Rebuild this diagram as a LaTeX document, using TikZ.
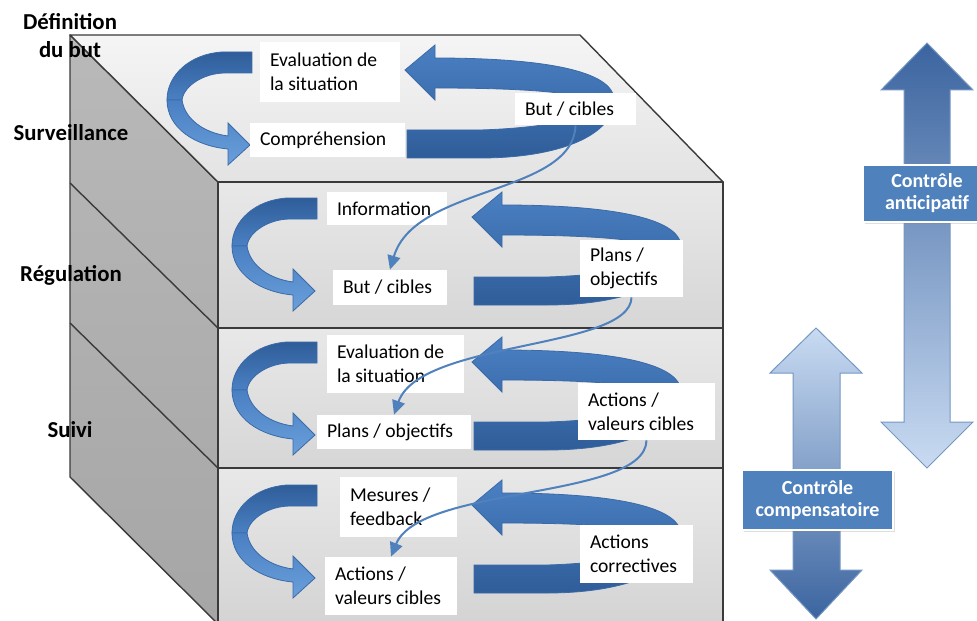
\documentclass[tikz,border=0pt]{standalone}
\usepackage{fontspec}
\setmainfont{Carlito}
\usetikzlibrary{arrows.meta,shadows}

\definecolor{arrowdark}{HTML}{2F5D99}
\definecolor{arrowmid}{HTML}{4A80C3}
\definecolor{arrowlight}{HTML}{6A9FDB}
\definecolor{arrowline}{HTML}{3A6AA8}
\definecolor{linkblue}{HTML}{4F81BD}
\definecolor{boxblue}{HTML}{4F81BD}
\definecolor{palearrow}{HTML}{C9DBF2}
\definecolor{deeparrow}{HTML}{3B649F}
\definecolor{edgegray}{HTML}{3A3A3A}

\newcommand\tagfont{\fontsize{9.8}{12}\selectfont\hyphenpenalty=10000}
\newcommand\phasefont{\fontsize{11.4}{14}\selectfont\bfseries}
\newcommand\ctrlfont{\fontsize{10}{11}\selectfont\bfseries}

\newcommand\ribbonL{%
  \path[draw=arrowline,line width=0.4pt,top color=arrowdark,bottom color=arrowmid]
    (252,52) -- (222,52) .. controls (190,54) and (167,75) .. (167,100)
    -- (182,100) .. controls (184,85) and (205,73) .. (225,73) -- (252,73) -- cycle;
  \path[draw=arrowline,line width=0.4pt,top color=arrowmid,bottom color=arrowlight]
    (167,100) .. controls (167,128) and (195,146) .. (228,149) -- (228,165)
    -- (250,145) -- (228,123) -- (228,136) .. controls (205,133) and (185,120) .. (182,100) -- cycle;
}
\newcommand\ribbonR{%
  \path[draw=arrowline,line width=0.4pt,top color=arrowmid,bottom color=arrowdark]
    (435,58) .. controls (540,58) and (614,70) .. (614,100)
    .. controls (614,135) and (560,158) .. (480,158) -- (407,158) -- (407,130) -- (480,130)
    .. controls (545,128) and (595,118) .. (598,105)
    .. controls (590,92) and (520,88) .. (435,88) -- (435,100) -- (405,70) -- (435,45) -- cycle;
}

\tikzset{
  tag/.style 2 args={fill=white, align=flush left, text width=#1, minimum height=#2,
    inner xsep=5pt, inner ysep=0pt, font=\tagfont},
  phase/.style={font=\phasefont, align=flush center},
  ctrl/.style={fill=boxblue, draw=white, line width=1pt, text=white, font=\ctrlfont,
    align=flush center, drop shadow={opacity=0.25, shadow xshift=1pt, shadow yshift=-1pt}},
  link/.style={draw=linkblue, line width=1pt, -{Triangle[length=7pt,width=6.5pt]}},
  face/.style={draw=edgegray, line width=0.7pt, line join=round},
}

\begin{document}
\begin{tikzpicture}[x=0.5pt,y=-0.5pt]

  \useasboundingbox (0,0) rectangle (977,620);
  \clip (0,0) rectangle (977,620);

  \path[face, top color=gray!55, bottom color=gray!70] (70,35) -- (218,182) -- (218,624) -- (70,477) -- cycle;
  \path[face, top color=gray!8, bottom color=gray!22] (70,35) -- (580,35) -- (723,182) -- (218,182) -- cycle;
  \path[face, top color=gray!18, bottom color=gray!32] (218,182) rectangle (723,328);
  \path[face, top color=gray!18, bottom color=gray!32] (218,328) rectangle (723,468);
  \path[face, top color=gray!18, bottom color=gray!34] (218,468) rectangle (723,624);
  \draw[face] (70,183) -- (218,328);
  \draw[face] (70,323) -- (218,468);

  \begin{scope}[every node/.style={phase}]
    \node (defin) at (70,36)  {Définition\\du but};
    \node (surv)  at (71,133) {Surveillance};
    \node (regul) at (71,275) {Régulation};
    \node (suivi) at (70,430) {Suivi};
  \end{scope}

  \ribbonL \ribbonR
  \begin{scope}[shift={(65,146)}] \ribbonL \end{scope}
  \begin{scope}[shift={(67,147)}] \ribbonR \end{scope}
  \begin{scope}[shift={(65,290)}] \ribbonL \end{scope}
  \begin{scope}[shift={(67,292)}] \ribbonR \end{scope}
  \begin{scope}[shift={(65,433)}] \ribbonL \end{scope}
  \begin{scope}[shift={(67,435)}] \ribbonR \end{scope}

  \node[tag={60pt}{30pt}]     (eval0)  at (330,72)      {Evaluation de\\la situation};
  \node[tag={67.5pt}{17pt}]   (compr)  at (327.5,140)   {Compréhension};
  \node[tag={50.5pt}{16pt}]   (but0)   at (575.5,109)   {But / cibles};

  \node[tag={50pt}{16.5pt}]   (info)   at (387,208.5)   {Information};
  \node[tag={47pt}{17.5pt}]   (but1)   at (390,287.5)   {But / cibles};
  \node[tag={41.5pt}{28.5pt}] (plans1) at (631.5,268.5) {Plans /\\objectifs};

  \node[tag={58.5pt}{29pt}]   (eval2)  at (395.5,364)   {Evaluation de\\la situation};
  \node[tag={67pt}{17pt}]     (plans2) at (394,432)     {Plans / objectifs};
  \node[tag={58.5pt}{28.5pt}] (act2)   at (646.5,411.5) {Actions /\\valeurs cibles};

  \node[tag={48.5pt}{30pt}]   (mes)    at (398.5,507)   {Mesures /\\feedback};
  \node[tag={56pt}{29pt}]     (act3)   at (391,586)     {Actions /\\valeurs cibles};
  \node[tag={46.5pt}{29pt}]   (corr)   at (636.5,554)   {Actions\\correctives};

  \draw[link] (but0.south)   .. controls (573,195) and (415,185) .. (but1.north);
  \draw[link] (plans1.south) .. controls (630,350) and (420,340) .. (plans2.north);
  \draw[link] (act2.south)   .. controls (645,500) and (420,485) .. (act3.north);

  \path[draw=arrowline!70!white, line width=0.5pt, top color=deeparrow, bottom color=palearrow]
    (927,43) -- (973,90) -- (950,90) -- (950,422) -- (973,422) -- (927,468)
    -- (881,422) -- (904,422) -- (904,90) -- (881,90) -- cycle;
  \path[draw=arrowline!70!white, line width=0.5pt, top color=palearrow, bottom color=deeparrow]
    (816,328) -- (862,373) -- (840,373) -- (840,570) -- (862,570) -- (816,619)
    -- (770,570) -- (793,570) -- (793,373) -- (770,373) -- cycle;

  \node[ctrl, minimum width=64pt, minimum height=28.5pt]   (antic) at (927,193.5) {Contrôle\\anticipatif};
  \node[ctrl, minimum width=75.5pt, minimum height=30pt]   (compe) at (817.5,500) {Contrôle\\compensatoire};

\end{tikzpicture}
\end{document}
